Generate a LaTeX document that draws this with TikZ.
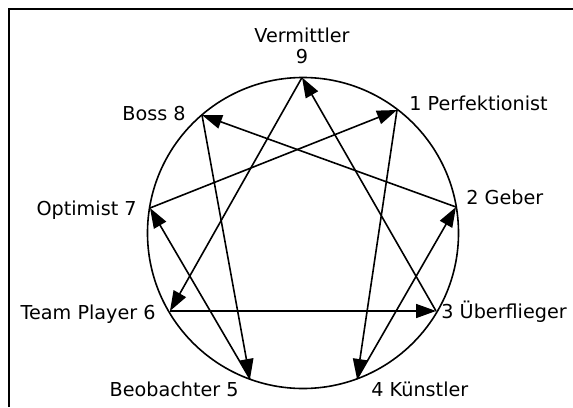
\documentclass[tikz,border=0pt]{standalone}
\usepackage{fontspec}
\setmainfont{DejaVu Sans}
\usetikzlibrary{arrows.meta}

\begin{document}
\begin{tikzpicture}[x=0.5pt,y=-0.5pt,
  pfeil/.style={line width=0.8pt,-{Triangle[length=10pt,width=7pt]}},
  lbl/.style={inner sep=0pt,font=\fontsize{9.6}{10.5}\selectfont}]
\useasboundingbox (0,0) rectangle (573,407);
\draw[line width=0.9pt] (9,407) -- (9,9) -- (573,9);
\draw[line width=0.8pt] (303,233) circle[radius=155.5];
% Punkte auf dem Kreis
\coordinate (p9) at (302,77.5);
\coordinate (p1) at (397,110);
\coordinate (p2) at (456,207);
\coordinate (p3) at (436,311);
\coordinate (p4) at (357,379);
\coordinate (p5) at (250,379);
\coordinate (p6) at (170,311);
\coordinate (p7) at (150,208);
\coordinate (p8) at (202,115);
% Beschriftungen
\node[lbl,align=center,anchor=south] (t9) at (302,64) {Vermittler\\9};
\node[lbl,anchor=base west] (t1) at (409,110) {1 Perfektionist};
\node[lbl,anchor=base west] (t2) at (466,204) {2 Geber};
\node[lbl,anchor=base west] (t3) at (441,318) {3 Überflieger};
\node[lbl,anchor=base west] (t4) at (371,396) {4 Künstler};
\node[lbl,anchor=base east] (t5) at (239,396) {Beobachter 5};
\node[lbl,anchor=base east] (t6) at (156,319) {Team Player 6};
\node[lbl,anchor=base east] (t7) at (137,215) {Optimist 7};
\node[lbl,anchor=base east] (t8) at (186,120) {Boss 8};
% Pfeile
\draw[pfeil] (p9) -- (p6);
\draw[pfeil] (p6) -- (p3);
\draw[pfeil] (p3) -- (p9);
\draw[pfeil] (p1) -- (p4);
\draw[pfeil] (p4) -- (p2);
\draw[pfeil] (p2) -- (p8);
\draw[pfeil] (p8) -- (p5);
\draw[pfeil] (p5) -- (p7);
\draw[pfeil] (p7) -- (p1);
\end{tikzpicture}
\end{document}
